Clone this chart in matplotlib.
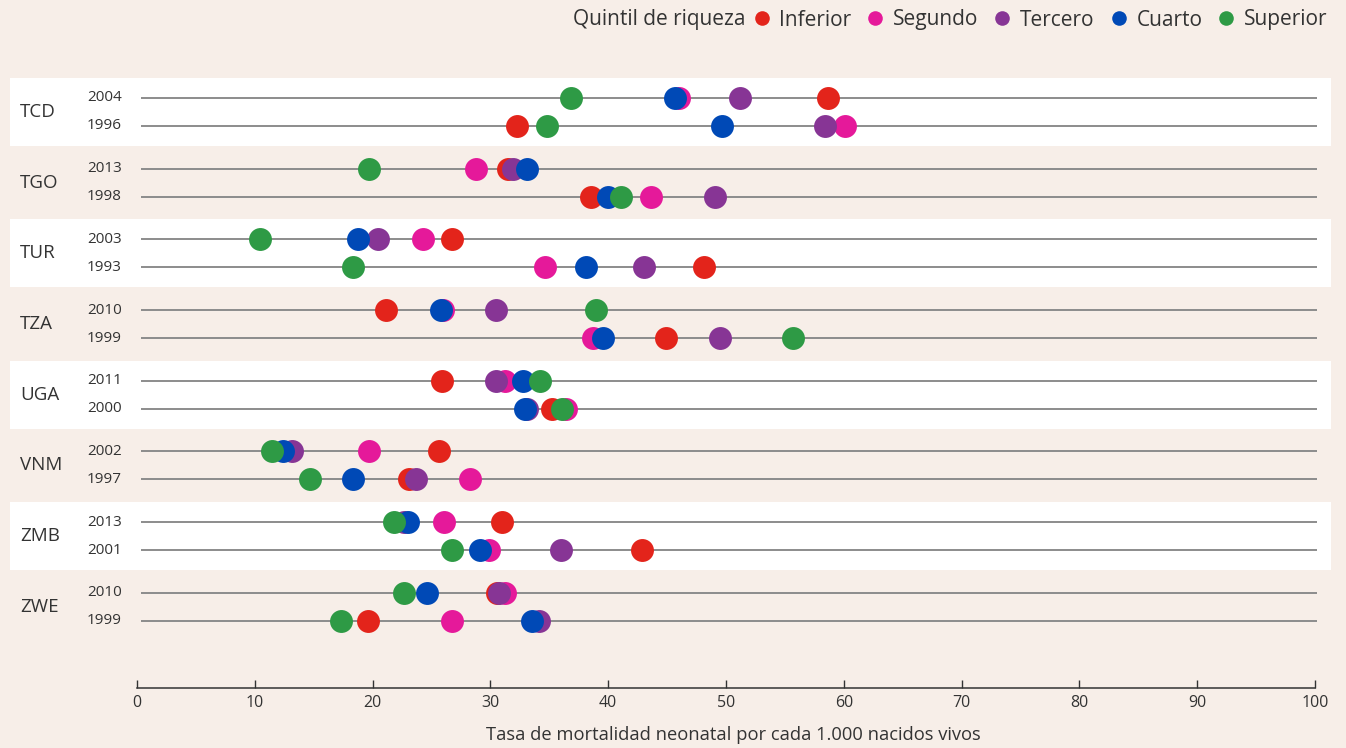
import numpy as np
import matplotlib.pyplot as plt
from matplotlib.lines import Line2D
from matplotlib.patches import Rectangle
from matplotlib.transforms import blended_transform_factory

plt.rcParams['font.family'] = ['Open Sans', 'DejaVu Sans']

countries = ['TCD', 'TGO', 'TUR', 'TZA', 'UGA', 'VNM', 'ZMB', 'ZWE']
years = [['2004', '1996'], ['2013', '1998'], ['2003', '1993'], ['2010', '1999'],
         ['2011', '2000'], ['2002', '1997'], ['2013', '2001'], ['2010', '1999']]

# one value per row: TCD 2004, TCD 1996, TGO 2013, TGO 1998, ...
inferior = [58.7, 32.3, 31.5, 38.5, 26.7, 48.1, 21.1, 44.9,
            25.9, 35.2, 25.6, 23.1, 31.0, 42.9, 30.6, 19.6]
segundo = [46.0, 60.1, 28.8, 43.6, 24.3, 34.6, 26.0, 38.7,
           31.2, 36.4, 19.7, 28.3, 26.1, 29.9, 31.2, 26.7]
tercero = [51.2, 58.4, 31.9, 49.1, 20.5, 43.0, 30.5, 49.5,
           30.5, 33.1, 13.2, 23.7, 22.7, 36.0, 30.7, 34.1]
cuarto = [45.7, 49.7, 33.1, 40.0, 18.8, 38.1, 25.8, 39.6,
          32.8, 32.9, 12.4, 18.3, 23.0, 29.1, 24.6, 33.5]
superior = [36.8, 34.8, 19.7, 41.1, 10.4, 18.3, 39.0, 55.7,
            34.2, 36.1, 11.5, 14.7, 21.8, 26.7, 22.7, 17.3]

series = [('Inferior', inferior, '#e3241b'),
          ('Segundo', segundo, '#e5199a'),
          ('Tercero', tercero, '#873595'),
          ('Cuarto', cuarto, '#0049b6'),
          ('Superior', superior, '#2e9a45')]

bg = '#f7eee8'
text_color = '#333333'
row_offset = 0.198
band_half = 0.48

fig = plt.figure(figsize=(13.46, 7.48), dpi=100, facecolor=bg)
ax = fig.add_axes([137 / 1346, 60 / 748, 1178 / 1346, 628 / 748])
ax.set_facecolor('none')

# row positions: group i centred at i, two rows above/below
row_y = []
for i in range(len(countries)):
    row_y += [i - row_offset, i + row_offset]
row_y = np.array(row_y)

fig_x = blended_transform_factory(fig.transFigure, ax.transData)

for i, country in enumerate(countries):
    if i % 2 == 0:
        ax.add_patch(Rectangle((10 / 1346, i - band_half), 1321 / 1346, 2 * band_half,
                               transform=fig_x, facecolor='white', edgecolor='none',
                               zorder=0, clip_on=False))
    ax.text(20 / 1346, i, country, transform=fig_x, fontsize=13.5, color=text_color,
            va='center', ha='left')
    ax.text(122 / 1346, i - row_offset, years[i][0], transform=fig_x, fontsize=11,
            color=text_color, va='center', ha='right')
    ax.text(122 / 1346, i + row_offset, years[i][1], transform=fig_x, fontsize=11,
            color=text_color, va='center', ha='right')

ax.hlines(row_y, 0.3, 100.2, color='#8c8c8c', linewidth=1.4, zorder=1, clip_on=False)

for k, (name, vals, color) in enumerate(series):
    ax.plot(vals, row_y, linestyle='none', marker='o', markersize=16.5,
            markerfacecolor=color, markeredgewidth=0, zorder=2 + k, clip_on=False)

ax.set_xlim(0, 100)
ax.set_ylim(8.147, -0.735)
ax.set_xticks(np.arange(0, 101, 10))
ax.set_yticks([])
for side in ['left', 'top', 'right']:
    ax.spines[side].set_visible(False)
ax.spines['bottom'].set_color(text_color)
ax.spines['bottom'].set_linewidth(1.1)
ax.tick_params(axis='x', direction='in', length=6, width=1, color=text_color,
               labelsize=11.5, labelcolor=text_color, pad=5)
ax.set_xlabel('Tasa de mortalidad neonatal por cada 1.000 nacidos vivos',
              fontsize=13.2, color=text_color, labelpad=11)
ax.xaxis.label.set_x(0.506)

handles = [Line2D([], [], linestyle='none', marker='o', markersize=10.5,
                  markerfacecolor=c, markeredgewidth=0) for _, _, c in series]
fig.legend(handles, [n for n, _, _ in series], ncol=5, loc='center right',
           bbox_to_anchor=(1342 / 1346, 1 - 20 / 748), frameon=False, fontsize=15,
           handletextpad=0.2, columnspacing=0.5, handlelength=1.3,
           labelcolor=text_color, borderpad=0.2)
fig.text(573 / 1346, 1 - 20 / 748, 'Quintil de riqueza', fontsize=15,
         color=text_color, ha='left', va='center')

fig.savefig('out.png', dpi=100, facecolor=bg)
